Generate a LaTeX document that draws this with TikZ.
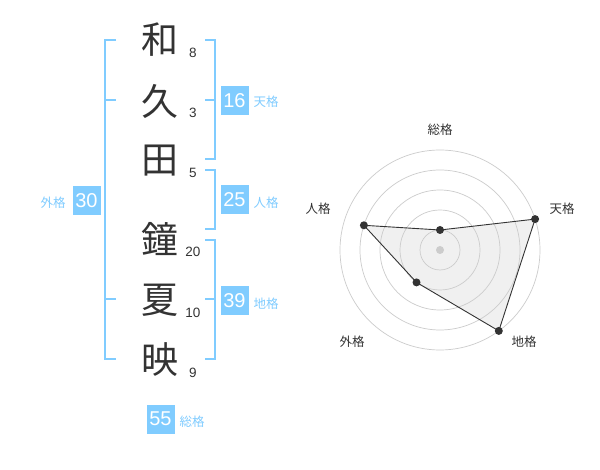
\documentclass[tikz,border=0pt]{standalone}
\usepackage{fontspec}
\setmainfont{Liberation Sans}
\newfontfamily\jp{Noto Sans CJK JP}
\definecolor{sky}{HTML}{80CCFF}
\definecolor{ink}{HTML}{333333}
\definecolor{ring}{HTML}{CCCCCC}
\begin{document}
\begin{tikzpicture}[x=1pt,y=-1pt,
  kanji/.style={font=\jp\fontsize{37}{37}\selectfont, text=ink, inner sep=0pt},
  stroke/.style={font=\fontsize{13.5}{13.5}\selectfont, text=ink, inner sep=0pt},
  valbox/.style={fill=sky, text=white, font=\fontsize{20}{20}\selectfont, minimum width=28pt, minimum height=29pt, inner sep=0pt},
  caption/.style={font=\jp\fontsize{12.5}{12.5}\selectfont, text=sky, inner sep=0pt},
  bracket/.style={draw=sky, line width=2pt},
  radlabel/.style={font=\jp\fontsize{12.5}{12.5}\selectfont, text=ink, inner sep=0pt},
  dot/.style={circle, fill=ink, minimum size=8pt, inner sep=0pt}]
\useasboundingbox (0,0) rectangle (600,470);
\fill[white] (0,0) rectangle (600,470);
% characters
\node[kanji] (k1) at (160,40) {和};
\node[kanji] (k2) at (160,101) {久};
\node[kanji] (k3) at (160,161) {田};
\node[kanji] (k4) at (160,239) {鐘};
\node[kanji] (k5) at (160,300) {夏};
\node[kanji] (k6) at (160,360) {映};
% stroke counts
\node[stroke] (s1) at (193,53) {8};
\node[stroke] (s2) at (193,113) {3};
\node[stroke] (s3) at (193,173) {5};
\node[stroke] (s4) at (193,252) {20};
\node[stroke] (s5) at (193,313) {10};
\node[stroke] (s6) at (193,373) {9};
% brackets
\draw[bracket] (116,40) -- (105,40) -- (105,359) -- (116,359);
\draw[bracket] (105,100) -- (116,100);
\draw[bracket] (105,299) -- (116,299);
\draw[bracket] (205,40) -- (215,40) -- (215,159) -- (205,159);
\draw[bracket] (205,100) -- (215,100);
\draw[bracket] (205,170) -- (215,170) -- (215,229) -- (205,229);
\draw[bracket] (205,240) -- (215,240) -- (215,359) -- (205,359);
\draw[bracket] (205,299) -- (215,299);
% value boxes
\node[valbox] (ten) at (234.5,100.5) {16};
\node[valbox] (jin) at (234.5,200) {25};
\node[valbox] (chi) at (234.5,300.5) {39};
\node[valbox] (gai) at (86.5,200.5) {30};
\node[valbox] (sou) at (160.5,419) {55};
\node[caption] (tenl) at (266,102) {天格};
\node[caption] (jinl) at (266,203) {人格};
\node[caption] (chil) at (266,304) {地格};
\node[caption] (gail) at (53,203) {外格};
\node[caption] (soul) at (192,422) {総格};
% radar chart
\coordinate (c) at (440,250);
\coordinate (pS) at (440,230);
\coordinate (pT) at (535.1,219.1);
\coordinate (pC) at (498.8,330.9);
\coordinate (pG) at (416.5,282.4);
\coordinate (pJ) at (363.9,225.3);
\fill[ink, opacity=0.07] (pS) -- (pT) -- (pC) -- (pG) -- (pJ) -- cycle;
\foreach \r in {20,40,60,80,100}
  \draw[ring, line width=0.7pt] (c) circle[radius=\r pt];
\draw[ink, line width=0.9pt] (pS) -- (pT) -- (pC) -- (pG) -- (pJ) -- cycle;
\node[circle, fill=ring, minimum size=8pt, inner sep=0pt] (cd) at (c) {};
\foreach \p in {pS,pT,pC,pG,pJ}
  \node[dot] (d\p) at (\p) {};
\node[radlabel] (rS) at (440,130) {総格};
\node[radlabel] (rT) at (562,209) {天格};
\node[radlabel] (rJ) at (318,209) {人格};
\node[radlabel] (rG) at (352,342) {外格};
\node[radlabel] (rC) at (524,342) {地格};
\end{tikzpicture}
\end{document}
